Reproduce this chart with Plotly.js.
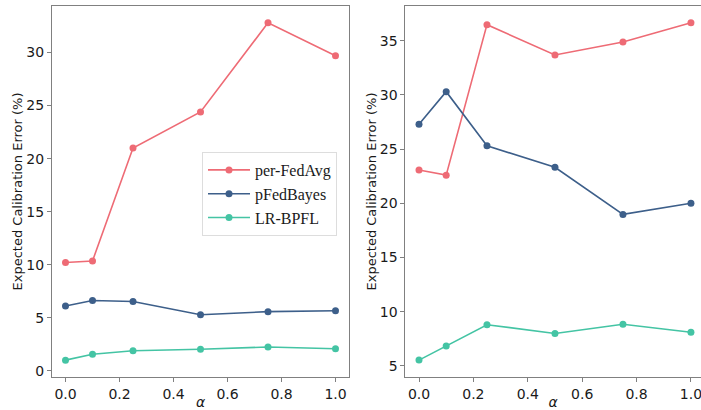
<!DOCTYPE html>
<html>
<head>
<meta charset="utf-8">
<script src="https://cdn.plot.ly/plotly-3.0.1.min.js"></script>
<style>html,body{margin:0;padding:0;background:#fff;}#chart{width:701px;height:410px;}</style>
</head>
<body>
<div id="chart"></div>
<script>
const alpha = [0.0, 0.1, 0.25, 0.5, 0.75, 1.0];
const seriesNames = ["per-FedAvg", "pFedBayes", "LR-BPFL"];
const colors = ["#EE6B75", "#3D5F8A", "#44C4A4"];

const leftPerFedAvg = [10.2, 10.35, 21.0, 24.4, 32.8, 29.7];
const leftPFedBayes = [6.1, 6.62, 6.53, 5.28, 5.57, 5.66];
const leftLRBPFL    = [1.0, 1.55, 1.89, 2.02, 2.24, 2.08];

const rightPerFedAvg = [23.07, 22.6, 36.48, 33.68, 34.88, 36.66];
const rightPFedBayes = [27.29, 30.3, 25.31, 23.32, 18.98, 20.0];
const rightLRBPFL    = [5.54, 6.84, 8.8, 8.0, 8.84, 8.1];

const leftTicks = [0, 5, 10, 15, 20, 25, 30];
const rightTicks = [5, 10, 15, 20, 25, 30, 35];
const xTicks = [0.0, 0.2, 0.4, 0.6, 0.8, 1.0];
const xTickText = ["0.0", "0.2", "0.4", "0.6", "0.8", "1.0"];
const yTitle = "Expected Calibration Error (%)";

function tr(y, i, xa, ya, show) {
  return {
    x: alpha, y: y, name: seriesNames[i], type: "scatter", mode: "lines+markers",
    xaxis: xa, yaxis: ya, showlegend: show,
    line: {color: colors[i], width: 1.6},
    marker: {color: colors[i], size: 7}
  };
}

const data = [
  tr(leftPerFedAvg, 0, "x", "y", true),
  tr(leftPFedBayes, 1, "x", "y", true),
  tr(leftLRBPFL, 2, "x", "y", true),
  tr(rightPerFedAvg, 0, "x2", "y2", false),
  tr(rightPFedBayes, 1, "x2", "y2", false),
  tr(rightLRBPFL, 2, "x2", "y2", false)
];

const tickFont = {family: "DejaVu Sans", size: 14, color: "#1a1a1a"};
function xaxis(domain, range, anchor) {
  return {
    domain: domain, range: range, anchor: anchor,
    tickvals: xTicks, ticktext: xTickText, ticks: "outside", ticklen: 4, tickcolor: "#808080",
    showline: true, mirror: true, linecolor: "#808080", linewidth: 1,
    showgrid: false, zeroline: false, tickfont: tickFont, ticklabeloverflow: "allow",
    title: {text: "α", font: {family: "DejaVu Sans", size: 14, color: "#1a1a1a", style: "italic"}, standoff: 1}
  };
}
function yaxis(domain, range, anchor, ticks) {
  return {
    domain: domain, range: range, anchor: anchor,
    tickvals: ticks, ticks: "outside", ticklen: 4, tickcolor: "#808080",
    showline: true, mirror: true, linecolor: "#808080", linewidth: 1,
    showgrid: false, zeroline: false, tickfont: tickFont,
    title: {text: yTitle, font: {family: "DejaVu Sans", size: 13, color: "#1a1a1a"}, standoff: 0}
  };
}

const yDom = [33/410, 404/410];
const layout = {
  width: 701, height: 410,
  margin: {l: 0, r: 0, t: 0, b: 0},
  paper_bgcolor: "#fff", plot_bgcolor: "#fff",
  xaxis: xaxis([52/701, 349/701], [-0.05, 1.05], "y"),
  yaxis: yaxis(yDom, [-0.59, 34.39], "x", leftTicks),
  xaxis2: xaxis([405.4/701, 1], [-0.05, 1.037], "y2"),
  yaxis2: yaxis(yDom, [3.98, 38.2], "x2", rightTicks),
  legend: {
    x: 202/701, y: 1 - 152/410, xanchor: "left", yanchor: "top",
    bgcolor: "#fff", bordercolor: "#dddddd", borderwidth: 1,
    font: {family: "Liberation Serif", size: 16, color: "#1a1a1a"},
    tracegroupgap: 0, itemwidth: 42
  },
  showlegend: true
};

Plotly.newPlot("chart", data, layout, {displayModeBar: false, staticPlot: true});
</script>
</body>
</html>
